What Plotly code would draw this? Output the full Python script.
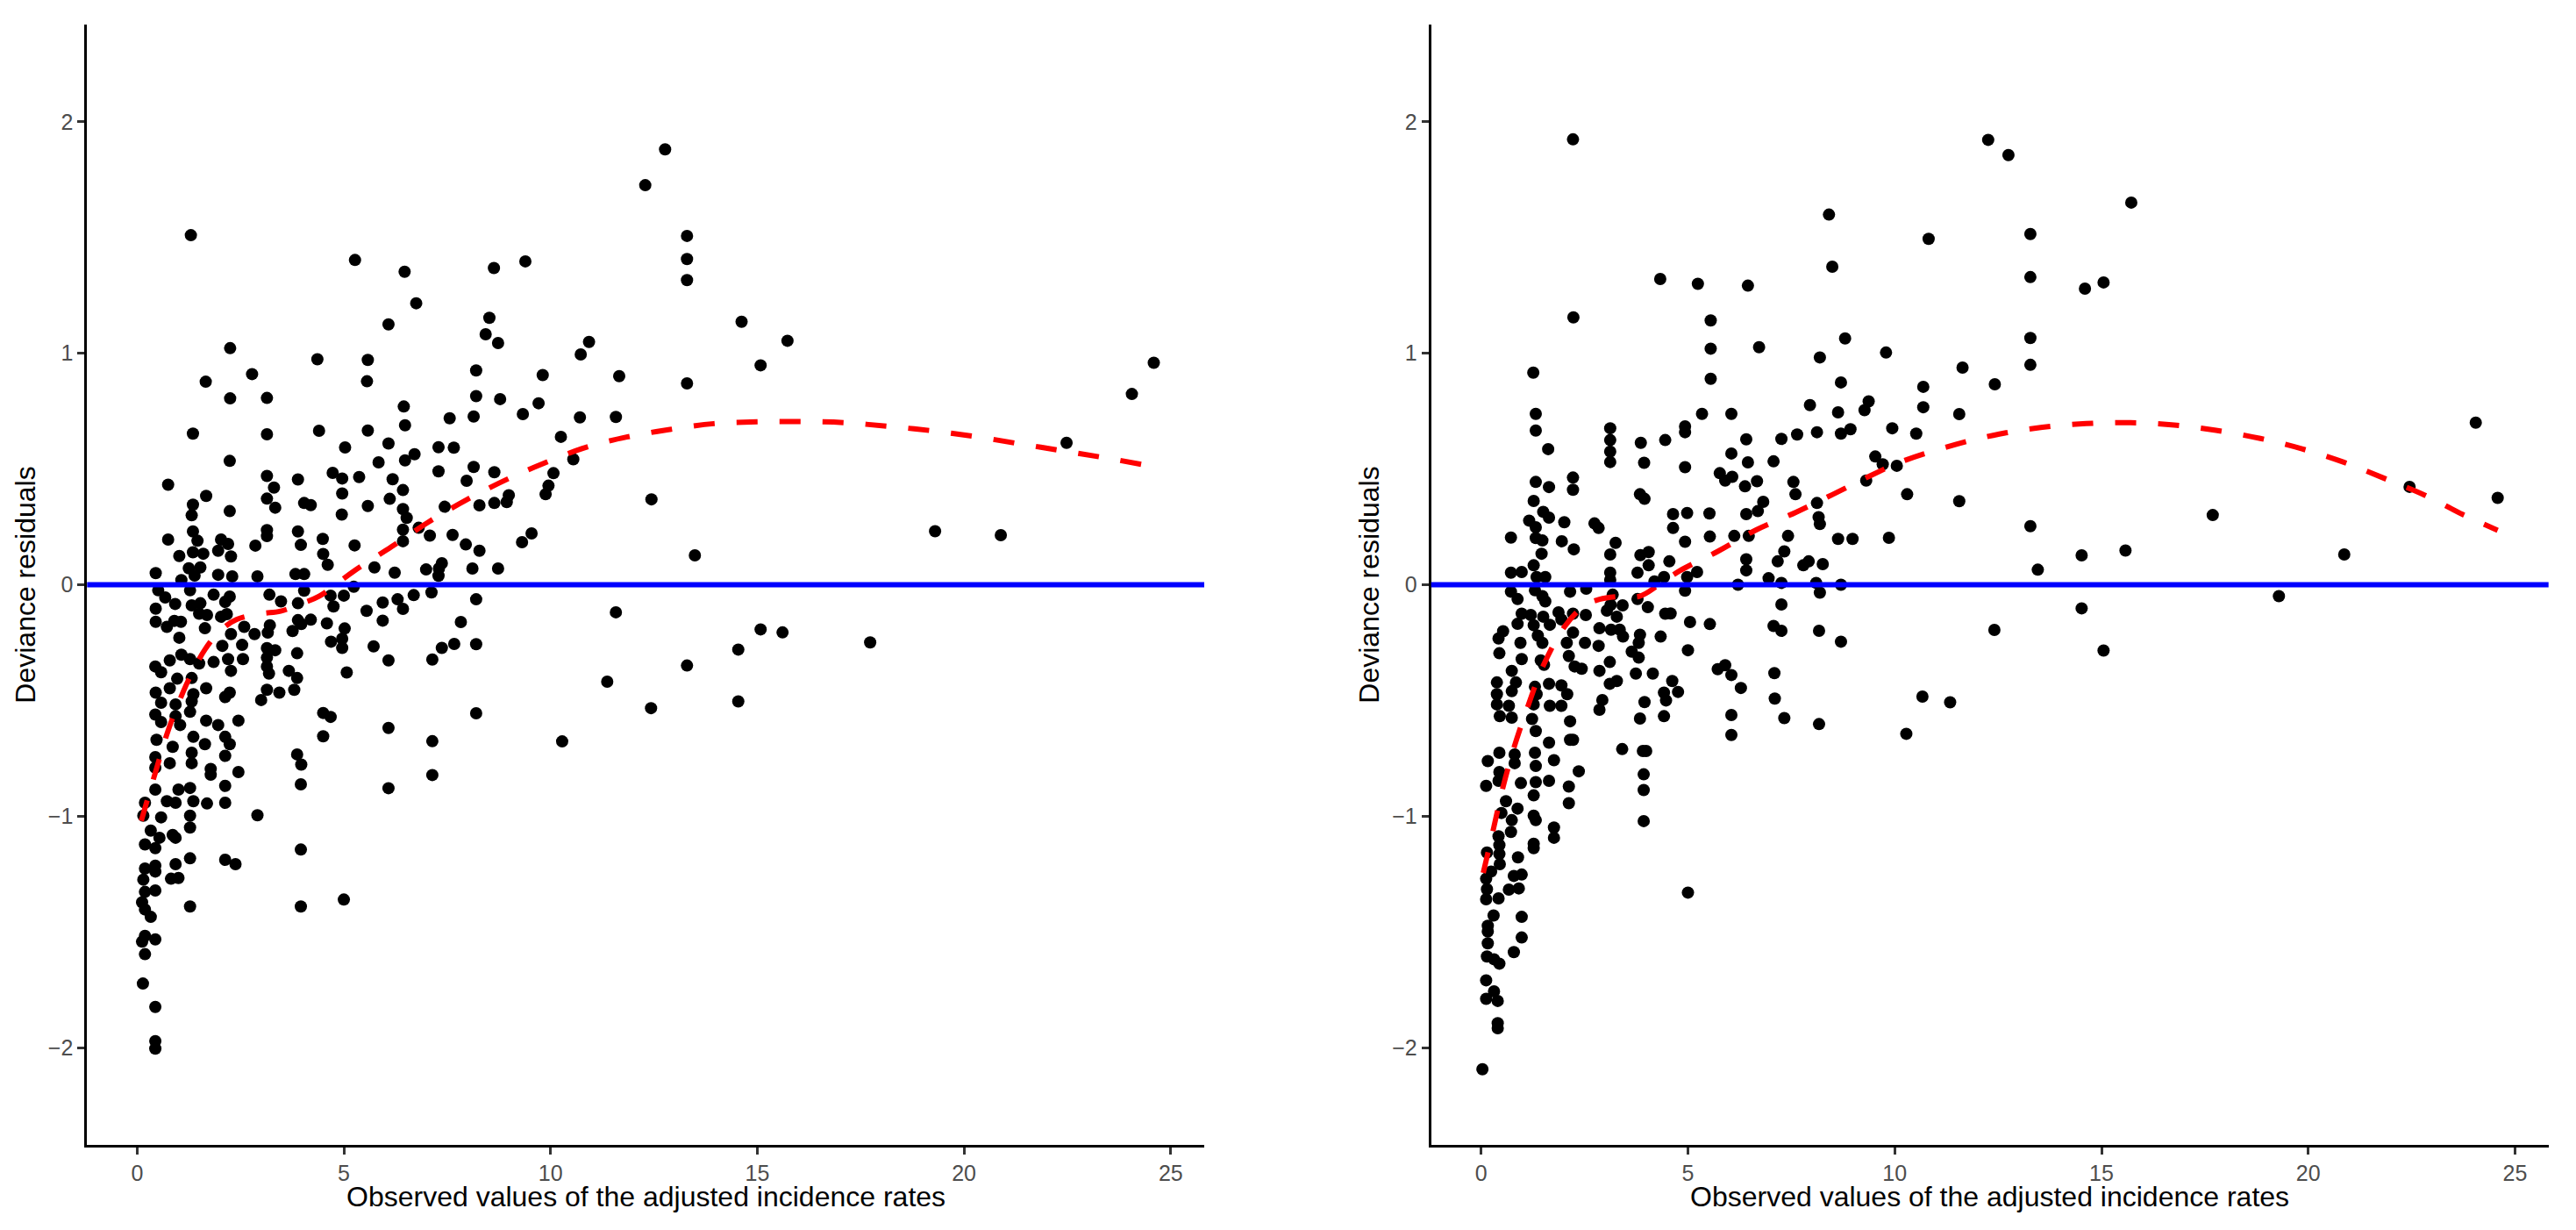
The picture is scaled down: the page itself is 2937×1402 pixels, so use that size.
import plotly.graph_objects as go

# ---- data (x = observed adjusted incidence rate, y = deviance residual)

# left panel, dense cluster x < 4, y in [-0.6, 0.75]
left_dense = [
    (1.35, 0.653), (3.14, 0.65), (2.24, 0.535), (0.75, 0.432), (3.14, 0.47), (3.89, 0.455), (3.31, 0.42),
    (1.67, 0.384), (3.14, 0.372), (4.04, 0.353), (1.35, 0.346), (3.34, 0.333), (2.24, 0.318), (1.32, 0.30),
    (3.14, 0.236), (3.14, 0.21), (3.89, 0.23), (0.75, 0.195), (1.35, 0.23), (1.46, 0.19), (2.03, 0.195),
    (2.2, 0.176), (2.86, 0.169), (3.96, 0.172), (1.35, 0.14), (1.6, 0.134), (1.96, 0.147), (1.02, 0.124),
    (2.27, 0.122), (1.25, 0.071), (1.53, 0.075), (0.45, 0.05), (1.07, 0.02), (1.39, 0.04), (1.96, 0.043),
    (2.3, 0.036), (2.91, 0.036), (3.83, 0.046), (4.04, 0.046), (0.51, -0.024), (1.28, -0.024), (1.85, -0.043),
    (2.24, -0.051), (3.2, -0.043), (3.48, -0.072), (3.89, -0.08), (4.04, -0.026), (0.68, -0.055), (0.92, -0.083),
    (0.45, -0.103), (1.32, -0.089), (1.53, -0.08), (2.13, -0.074), (1.5, -0.125), (1.69, -0.131), (2.03, -0.138),
    (2.17, -0.127), (0.45, -0.16), (0.72, -0.182), (0.9, -0.156), (1.06, -0.16), (1.64, -0.188), (2.27, -0.213),
    (2.59, -0.182), (2.84, -0.213), (3.21, -0.175), (3.16, -0.207), (3.76, -0.2), (3.89, -0.153), (3.97, -0.17),
    (1.02, -0.229), (2.06, -0.264), (2.54, -0.26), (3.14, -0.274), (3.34, -0.283), (3.87, -0.296), (0.44, -0.353),
    (0.58, -0.378), (0.79, -0.327), (1.07, -0.302), (1.28, -0.321), (1.5, -0.34), (1.85, -0.334), (2.2, -0.321),
    (2.56, -0.321), (2.27, -0.372), (3.14, -0.315), (3.14, -0.353), (3.19, -0.384), (3.67, -0.372), (3.87, -0.403),
    (3.8, -0.454), (0.97, -0.406), (1.32, -0.403), (0.45, -0.466), (0.79, -0.447), (1.36, -0.473), (1.67, -0.447),
    (2.24, -0.466), (2.13, -0.485), (3.0, -0.498), (3.14, -0.454), (3.44, -0.466), (0.58, -0.51), (0.93, -0.517),
    (1.32, -0.504), (0.44, -0.561), (0.58, -0.593), (0.93, -0.568), (1.28, -0.549), (1.67, -0.587), (1.96, -0.606),
    (2.45, -0.587), (1.04, -0.606),
]

# left panel, low values near the origin
left_low = [
    (0.47, -0.67), (0.86, -0.7), (1.36, -0.657), (1.64, -0.689), (1.32, -0.726), (1.32, -0.771), (2.13, -0.657),
    (2.24, -0.689), (2.13, -0.739), (0.44, -0.745), (0.44, -0.79), (0.79, -0.771), (1.78, -0.796), (1.78, -0.821),
    (2.45, -0.809), (3.87, -0.733), (3.97, -0.777), (3.96, -0.862), (0.44, -0.885), (1.0, -0.885), (1.28, -0.878),
    (2.13, -0.869), (0.19, -0.942), (0.72, -0.935), (0.93, -0.942), (1.36, -0.935), (1.69, -0.945), (2.13, -0.942),
    (0.15, -0.998), (0.58, -1.005), (1.28, -0.998), (1.28, -1.049), (2.91, -0.996), (0.33, -1.062), (0.54, -1.093),
    (0.86, -1.081), (0.93, -1.093), (0.19, -1.122), (0.44, -1.138), (1.28, -1.182), (2.13, -1.188), (2.38, -1.207),
    (3.96, -1.144), (0.19, -1.226), (0.44, -1.214), (0.44, -1.239), (0.93, -1.207), (0.82, -1.27), (1.0, -1.267),
    (0.15, -1.274), (0.19, -1.327), (0.44, -1.321), (0.12, -1.372), (0.19, -1.403), (0.33, -1.435), (1.28, -1.39),
    (3.96, -1.39), (0.19, -1.517), (0.44, -1.532), (0.12, -1.542), (0.19, -1.596), (0.14, -1.723), (0.44, -1.824),
    (0.44, -1.972), (0.44, -2.004), (5.0, -1.36),
]

# left panel, middle range 4 < x < 10.5
left_mid = [
    (8.43, 1.082), (8.73, 1.044), (4.36, 0.974), (5.58, 0.971), (5.56, 0.879), (8.2, 0.926), (9.81, 0.906),
    (8.2, 0.815), (8.78, 0.802), (9.71, 0.784), (6.45, 0.77), (7.56, 0.719), (8.14, 0.727), (9.33, 0.737),
    (6.48, 0.689), (4.4, 0.665), (5.58, 0.666), (10.25, 0.639), (6.08, 0.61), (5.03, 0.593), (7.29, 0.594),
    (7.66, 0.592), (6.71, 0.564), (6.48, 0.537), (5.84, 0.529), (8.14, 0.509), (4.73, 0.483), (4.96, 0.459),
    (5.37, 0.465), (7.29, 0.49), (6.18, 0.456), (8.64, 0.486), (7.97, 0.449), (10.07, 0.482), (4.96, 0.394),
    (6.43, 0.409), (9.95, 0.428), (9.88, 0.391), (8.99, 0.387), (8.94, 0.357), (4.2, 0.344), (5.58, 0.34),
    (6.11, 0.371), (7.44, 0.337), (8.28, 0.343), (8.64, 0.353), (6.43, 0.327), (6.52, 0.289), (4.95, 0.303),
    (6.43, 0.238), (6.43, 0.188), (6.81, 0.246), (7.08, 0.212), (7.63, 0.215), (7.95, 0.174), (8.28, 0.147),
    (9.54, 0.222), (9.31, 0.184), (4.49, 0.198), (5.26, 0.17), (4.5, 0.133), (4.61, 0.086), (5.74, 0.075),
    (6.23, 0.052), (6.99, 0.066), (7.37, 0.093), (7.3, 0.07), (7.29, 0.039), (8.11, 0.07), (8.73, 0.07),
    (5.24, -0.009), (4.68, -0.047), (5.0, -0.047), (4.75, -0.094), (5.94, -0.077), (6.3, -0.063), (6.69, -0.045),
    (7.12, -0.033), (8.2, -0.063), (5.55, -0.113), (5.94, -0.155), (6.43, -0.104), (4.2, -0.151), (4.59, -0.167),
    (5.02, -0.189), (7.83, -0.161), (4.69, -0.246), (4.96, -0.233), (4.96, -0.273), (5.72, -0.266), (6.08, -0.327),
    (7.14, -0.323), (7.37, -0.273), (7.67, -0.256), (8.2, -0.257), (5.07, -0.379), (4.5, -0.554), (4.68, -0.571),
    (8.2, -0.555), (6.08, -0.619), (4.5, -0.655), (7.14, -0.676), (10.28, -0.677), (7.14, -0.822), (6.08, -0.879),
]

# left panel, high residuals and the sparse right-hand tail
left_high = [
    (1.3, 1.51), (5.27, 1.403), (6.47, 1.352), (8.63, 1.368), (9.39, 1.397), (6.75, 1.216), (6.08, 1.125),
    (8.52, 1.153), (2.25, 1.022), (10.93, 1.049), (10.73, 0.995), (1.66, 0.877), (2.78, 0.91), (2.25, 0.805),
    (3.14, 0.807), (10.71, 0.723), (10.55, 0.542),
    (12.77, 1.881), (12.29, 1.726), (13.3, 1.507), (13.3, 1.407), (13.3, 1.316), (14.62, 1.136), (15.73, 1.054),
    (15.08, 0.948), (11.66, 0.901), (13.3, 0.87), (11.58, 0.725), (24.59, 0.959), (24.06, 0.824), (22.48, 0.613),
    (12.44, 0.369), (19.3, 0.231), (20.89, 0.214), (13.49, 0.127), (11.58, -0.119), (15.08, -0.193),
    (15.61, -0.206), (17.73, -0.249), (14.54, -0.28), (13.3, -0.349), (11.37, -0.419), (12.43, -0.533),
    (14.54, -0.504),
]

# right panel, dense cluster x < 4.5
right_dense = [
    (1.32, 0.738), (1.32, 0.666), (3.12, 0.676), (3.12, 0.625), (3.12, 0.575), (3.12, 0.53), (3.86, 0.613),
    (3.94, 0.527), (4.45, 0.625), (1.62, 0.586), (1.32, 0.444), (1.64, 0.422), (2.22, 0.463), (2.22, 0.41),
    (3.84, 0.391), (3.95, 0.371), (1.27, 0.362), (1.5, 0.315), (1.64, 0.29), (1.16, 0.277), (2.01, 0.27),
    (2.74, 0.265), (2.84, 0.245), (1.32, 0.248), (0.72, 0.204), (1.32, 0.202), (1.48, 0.191), (1.95, 0.188),
    (2.24, 0.153), (3.25, 0.181), (3.12, 0.131), (1.46, 0.134), (3.85, 0.128), (4.05, 0.141), (4.05, 0.084),
    (1.27, 0.084), (0.72, 0.052), (0.98, 0.055), (1.34, 0.033), (1.55, 0.033), (3.12, 0.052), (3.12, 0.021),
    (3.78, 0.052), (4.19, 0.014), (4.42, 0.033), (1.3, -0.024), (0.72, -0.03), (1.48, -0.049), (2.15, -0.03),
    (2.54, -0.017), (0.88, -0.062), (1.55, -0.072), (3.18, -0.043), (3.13, -0.087), (3.42, -0.089), (4.03, -0.097),
    (3.78, -0.062), (4.45, -0.125), (0.98, -0.125), (1.2, -0.131), (1.5, -0.138), (1.87, -0.119), (2.22, -0.125),
    (2.53, -0.131), (0.88, -0.169), (1.27, -0.175), (1.66, -0.173), (1.94, -0.15), (3.04, -0.112), (3.28, -0.138),
    (0.53, -0.201), (0.42, -0.232), (1.37, -0.22), (2.22, -0.207), (2.86, -0.188), (3.14, -0.194), (3.35, -0.194),
    (3.43, -0.224), (3.84, -0.216), (4.34, -0.224), (0.95, -0.251), (1.48, -0.251), (2.07, -0.251), (2.51, -0.251),
    (2.84, -0.264), (3.81, -0.251), (0.44, -0.296), (0.98, -0.321), (1.44, -0.327), (2.12, -0.308), (2.26, -0.353),
    (3.11, -0.334), (3.64, -0.289), (3.81, -0.315), (0.74, -0.372), (1.52, -0.346), (2.43, -0.363), (2.86, -0.372),
    (3.74, -0.384), (4.15, -0.384), (0.38, -0.422), (0.84, -0.422), (1.3, -0.441), (1.64, -0.428), (1.94, -0.435),
    (3.11, -0.428), (3.28, -0.416), (0.38, -0.473), (0.74, -0.46), (1.34, -0.473), (2.08, -0.473), (2.93, -0.498),
    (4.42, -0.466), (0.38, -0.517), (0.67, -0.523), (1.66, -0.523), (1.94, -0.523), (1.27, -0.517), (2.86, -0.54),
    (3.95, -0.507), (0.45, -0.568), (0.74, -0.574), (1.23, -0.58), (2.15, -0.59), (3.84, -0.578), (4.42, -0.568),
]

# right panel, low values near the origin
right_low = [
    (1.32, -0.632), (1.64, -0.682), (2.15, -0.67), (2.22, -0.67), (3.41, -0.71), (3.91, -0.718), (3.99, -0.718),
    (0.16, -0.762), (0.44, -0.726), (0.81, -0.733), (0.81, -0.771), (1.3, -0.726), (1.32, -0.783), (1.76, -0.758),
    (2.36, -0.806), (0.44, -0.809), (0.42, -0.847), (0.12, -0.869), (0.96, -0.857), (1.32, -0.853), (1.64, -0.847),
    (1.27, -0.91), (2.12, -0.872), (2.12, -0.944), (3.93, -0.819), (3.93, -0.887), (3.93, -1.021), (0.6, -0.935),
    (0.49, -0.986), (0.88, -0.967), (0.74, -1.017), (0.72, -1.068), (1.27, -0.998), (1.32, -1.017), (1.76, -1.049),
    (1.76, -1.093), (1.27, -1.119), (1.27, -1.138), (0.42, -1.087), (0.44, -1.125), (0.44, -1.163), (0.14, -1.157),
    (0.45, -1.207), (0.89, -1.178), (0.24, -1.239), (0.79, -1.258), (0.98, -1.252), (0.12, -1.27), (0.14, -1.315),
    (0.12, -1.359), (0.42, -1.355), (0.67, -1.317), (0.91, -1.312), (0.3, -1.429), (0.16, -1.473), (0.16, -1.498),
    (0.16, -1.549), (0.98, -1.435), (0.98, -1.524), (0.79, -1.587), (0.14, -1.606), (0.31, -1.618), (0.44, -1.637),
    (0.12, -1.709), (0.31, -1.757), (0.12, -1.789), (0.4, -1.798), (0.4, -1.894), (0.4, -1.916), (0.03, -2.093),
]

# right panel, middle range 4.5 < x < 11
right_mid = [
    (2.22, 1.924), (8.41, 1.599), (10.82, 1.494), (4.33, 1.321), (5.24, 1.3), (6.45, 1.292), (2.23, 1.155),
    (8.49, 1.374), (5.55, 1.142), (5.55, 1.02), (5.55, 0.89), (6.72, 1.026), (8.8, 1.064), (8.19, 0.982),
    (9.79, 1.003), (1.26, 0.916), (8.7, 0.874), (10.69, 0.855), (10.69, 0.767), (4.93, 0.684), (4.93, 0.659),
    (5.34, 0.738), (6.05, 0.738), (7.95, 0.776), (8.63, 0.745), (9.27, 0.754), (9.37, 0.792), (6.41, 0.628),
    (7.26, 0.63), (7.64, 0.649), (8.12, 0.659), (8.7, 0.653), (8.93, 0.672), (9.94, 0.676), (10.52, 0.653),
    (6.05, 0.567), (6.45, 0.529), (7.07, 0.533), (4.93, 0.508), (5.77, 0.482), (5.9, 0.45), (6.07, 0.466),
    (6.38, 0.425), (6.67, 0.447), (6.82, 0.358), (7.55, 0.444), (7.6, 0.391), (8.12, 0.353), (9.31, 0.45),
    (9.53, 0.554), (9.71, 0.52), (10.05, 0.514), (10.3, 0.391), (4.64, 0.305), (4.98, 0.31), (5.52, 0.308),
    (6.41, 0.305), (6.69, 0.318), (8.16, 0.292),
    (4.64, 0.245), (5.53, 0.208), (4.93, 0.186), (4.55, 0.101), (6.47, 0.211), (6.12, 0.211), (6.41, 0.11),
    (6.41, 0.062), (6.21, 0.0), (6.95, 0.028), (7.26, 0.008), (7.26, -0.085), (7.07, -0.178), (7.26, -0.199),
    (7.09, -0.382), (7.1, -0.492), (7.33, -0.576), (7.17, 0.101), (7.33, 0.144), (7.42, 0.211), (7.79, 0.084),
    (7.92, 0.101), (8.19, 0.262), (8.1, 0.008), (8.19, -0.034), (8.26, 0.089), (8.63, 0.198), (8.98, 0.198),
    (9.86, 0.203), (8.7, 0.0), (8.17, -0.199), (8.7, -0.246), (8.17, -0.602), (10.67, -0.483), (10.28, -0.644),
    (5.53, -0.17), (5.9, -0.348), (5.72, -0.365), (6.05, -0.39), (6.28, -0.446), (6.05, -0.563), (6.05, -0.649),
    (5.0, -0.283), (5.05, -0.161), (4.58, -0.124), (5.22, 0.055), (4.98, 0.033), (4.93, -0.026), (4.62, -0.416),
    (4.47, -0.5), (4.76, -0.463), (5.0, -1.33),
]

# right panel, sparse right-hand tail
right_tail = [
    (12.26, 1.922), (12.75, 1.856), (15.72, 1.651), (13.28, 1.515), (13.28, 1.329), (14.6, 1.279), (15.05, 1.306),
    (13.28, 1.066), (13.28, 0.95), (11.64, 0.938), (12.42, 0.866), (11.56, 0.737), (24.05, 0.7), (22.45, 0.423),
    (24.58, 0.375), (11.56, 0.361), (17.69, 0.301), (13.28, 0.253), (14.52, 0.127), (15.58, 0.148),
    (20.87, 0.131), (13.46, 0.065), (19.29, -0.049), (14.52, -0.102), (12.41, -0.195), (15.05, -0.284),
    (11.34, -0.508),
]

# smoothed trend (red dashed)
left_smooth_x = [0.1, 0.46, 0.75, 1.12, 1.36, 1.64, 2.0, 2.41, 3.0, 3.47, 4.0, 4.4, 5.25, 6.15, 7.04, 8.0,
                 9.0, 9.84, 10.84, 11.84, 12.89, 13.95, 15.0, 16.06, 17.12, 18.18, 19.23, 20.28, 21.34,
                 22.34, 23.39, 24.6]
left_smooth_y = [-1.02, -0.80, -0.63, -0.46, -0.37, -0.28, -0.2, -0.15, -0.125, -0.114, -0.08, -0.05, 0.06,
                 0.164, 0.27, 0.37, 0.46, 0.525, 0.593, 0.638, 0.671, 0.696, 0.704, 0.705, 0.70, 0.684, 0.665,
                 0.64, 0.609, 0.58, 0.549, 0.51]
right_smooth_x = [0.05, 0.27, 0.53, 0.8, 1.1, 1.5, 2.02, 2.5, 2.86, 3.4, 3.83, 4.3, 4.8, 5.72, 6.65, 7.61,
                  8.5, 9.4, 10.21, 11.49, 12.53, 13.57, 14.63, 15.7, 16.76, 17.77, 18.84, 19.85, 20.86,
                  21.82, 22.83, 23.74, 24.58]
right_smooth_y = [-1.245, -1.076, -0.873, -0.70, -0.54, -0.35, -0.18, -0.09, -0.063, -0.05, -0.05, 0.0, 0.06,
                  0.144, 0.237, 0.313, 0.39, 0.47, 0.535, 0.607, 0.651, 0.68, 0.696, 0.70, 0.69, 0.667, 0.632,
                  0.587, 0.529, 0.461, 0.386, 0.303, 0.235]

x_ticks = [0, 5, 10, 15, 20, 25]
y_ticks = [-2, -1, 0, 1, 2]
x_title = "Observed values of the adjusted incidence rates"
y_title = "Deviance residuals"

FONT = "Liberation Sans, Arial, Helvetica, sans-serif"

# the page body has an 8px margin, so the figure is a little smaller than the window
W, H = 2929, 1386

left_pts = left_dense + left_low + left_mid + left_high
right_pts = right_dense + right_low + right_mid + right_tail

fig = go.Figure()

for pts, sx, sy, xa, ya in [
    (left_pts, left_smooth_x, left_smooth_y, "x", "y"),
    (right_pts, right_smooth_x, right_smooth_y, "x2", "y2"),
]:
    fig.add_trace(go.Scatter(
        x=[p[0] for p in pts], y=[p[1] for p in pts],
        mode="markers", marker=dict(color="black", size=14, line=dict(width=0)),
        xaxis=xa, yaxis=ya, hoverinfo="x+y",
    ))
    fig.add_trace(go.Scatter(
        x=sx, y=sy, mode="lines", line_shape="spline",
        line=dict(color="#FF0000", width=6, dash="24px,25px"),
        xaxis=xa, yaxis=ya, hoverinfo="skip",
    ))
    # zero reference line
    fig.add_shape(type="line", xref=xa + " domain", yref=ya, x0=0, x1=1, y0=0, y1=0,
                  line=dict(color="#0000FF", width=6), layer="above")
    # x axis title, placed by hand to sit just under the tick labels
    fig.add_annotation(text=x_title, xref=xa + " domain", x=0.5, yref="paper", y=(H - 1355.5) / H,
                       xanchor="center", yanchor="middle", showarrow=False,
                       font=dict(family=FONT, size=32, color="black"))

axis_common = dict(
    showline=True, linecolor="black", linewidth=3,
    ticks="outside", ticklen=8, tickwidth=3, tickcolor="#333333",
    tickfont=dict(family=FONT, size=25, color="#4D4D4D"),
    showgrid=False, zeroline=False,
)

x_kw = dict(axis_common, range=[-1.21, 25.81], tickvals=x_ticks)
y_kw = dict(axis_common, range=[-2.42, 2.42], tickvals=y_ticks,
            title=dict(text=y_title, font=dict(family=FONT, size=32, color="black"), standoff=5))

y_dom = [(H - 1297) / H, (H - 20) / H]

fig.update_layout(
    width=W, height=H,
    margin=dict(l=0, r=0, t=0, b=0),
    paper_bgcolor="white", plot_bgcolor="white",
    showlegend=False,
    font=dict(family=FONT),
    xaxis=dict(x_kw, domain=[91.3 / W, 1365 / W], anchor="y"),
    yaxis=dict(y_kw, domain=y_dom, anchor="x"),
    xaxis2=dict(x_kw, domain=[1623.7 / W, 2897.7 / W], anchor="y2"),
    yaxis2=dict(y_kw, domain=y_dom, anchor="x2"),
)

fig.write_html("out.html")
